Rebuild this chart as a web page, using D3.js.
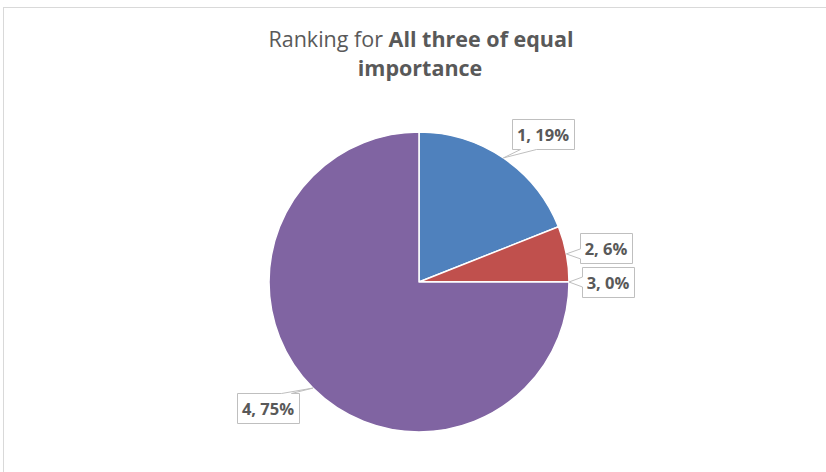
<!DOCTYPE html>
<html>
<head>
<meta charset="utf-8">
<script src="https://cdn.jsdelivr.net/npm/d3@7"></script>
<style>
  html, body { margin: 0; padding: 0; background: #fff; }
  svg { display: block; }
</style>
</head>
<body>
<svg id="chart" width="826" height="472"></svg>
<script>
// Ranking categories and their shares (percent)
const categories = ["1", "2", "3", "4"];
const shares = [19, 6, 0, 75];
const sliceColors = ["#4F81BD", "#C0504D", "#9BBB59", "#8064A2"];

// Title pieces: regular prefix, bold subject
const titlePrefix = "Ranking for ";
const titleBoldLine1 = "All three of equal";
const titleLine2 = "importance";

// Callout box centres for each label
const labelCenters = [[543, 134], [606, 248], [608, 282], [268, 408]];

const W = 826, H = 472;
const cx = 419, cy = 282, R = 150;
const textColor = "#595959";
const fontFamily = "'Open Sans', Lato, sans-serif";

const svg = d3.select("#chart");

// Chart area frame
svg.append("rect")
  .attr("x", 3.5).attr("y", 7.5)
  .attr("width", W + 10).attr("height", H + 10)
  .attr("fill", "#fff")
  .attr("stroke", "#d9d9d9")
  .attr("stroke-width", 1);

// Title
const title = svg.append("text")
  .attr("text-anchor", "middle")
  .attr("font-family", fontFamily)
  .attr("font-size", 21.5)
  .attr("fill", textColor);
title.append("tspan").attr("x", 421).attr("y", 47).text(titlePrefix);
title.append("tspan").attr("font-weight", "bold").text(titleBoldLine1);
title.append("tspan").attr("x", 420).attr("y", 76).attr("font-weight", "bold").text(titleLine2);

// Pie
const data = categories.map((c, i) => ({ cat: c, value: shares[i], color: sliceColors[i] }));
const pie = d3.pie().value(d => d.value).sort(null);
const arcs = pie(data);
const arc = d3.arc().innerRadius(0).outerRadius(R);

const g = svg.append("g").attr("transform", `translate(${cx},${cy})`);
g.selectAll("path.slice")
  .data(arcs)
  .join("path")
  .attr("class", "slice")
  .attr("d", arc)
  .attr("fill", d => d.data.color)
  .attr("stroke", "#fff")
  .attr("stroke-width", 1.5)
  .attr("stroke-linejoin", "round");

// Callout labels with pointer wedges
const labelG = svg.append("g");
arcs.forEach((a, i) => {
  const mid = (a.startAngle + a.endAngle) / 2;
  const tip = [cx + R * Math.sin(mid), cy - R * Math.cos(mid)];
  const [lx, ly] = labelCenters[i];
  const label = `${a.data.cat}, ${a.data.value}%`;

  const grp = labelG.append("g");
  const t = grp.append("text")
    .attr("x", lx).attr("y", ly)
    .attr("text-anchor", "middle")
    .attr("dominant-baseline", "central")
    .attr("font-family", fontFamily)
    .attr("font-weight", "bold")
    .attr("font-size", 16.5)
    .attr("fill", textColor)
    .text(label);
  const bb = t.node().getBBox();
  const padX = 5, bh = 30;
  const x0 = Math.round(lx - bb.width / 2 - padX) + 0.5;
  const x1 = Math.round(lx + bb.width / 2 + padX) + 0.5;
  const y0 = Math.round(ly - bh / 2) + 0.5;
  const y1 = y0 + bh;

  // Build the outline clockwise, inserting the wedge on the side facing the tip
  let pts;
  const [tx, ty] = tip;
  if (tx < x0 && ty > y0 && ty < y1) {
    // left side
    const yc = Math.min(Math.max(ty, y0 + 8), y1 - 8);
    pts = [[x0, y0], [x1, y0], [x1, y1], [x0, y1], [x0, yc + 5], [tx, ty], [x0, yc - 5]];
  } else if (ty > y1) {
    // bottom side
    const xc = Math.min(Math.max(tx, x0 + 4), x1 - 24);
    pts = [[x0, y0], [x1, y0], [x1, y1], [xc + 20, y1], [tx, ty], [xc + 4, y1], [x0, y1]];
  } else {
    // top side
    const xc = Math.min(Math.max(tx, x0 + 24), x1 - 4);
    pts = [[x0, y0], [xc - 14, y0], [tx, ty], [xc - 4, y0], [x1, y0], [x1, y1], [x0, y1]];
  }
  grp.insert("path", "text")
    .attr("d", d3.line()(pts) + "Z")
    .attr("fill", "#fff")
    .attr("stroke", "#bfbfbf")
    .attr("stroke-width", 1)
    .attr("stroke-linejoin", "miter");
});
</script>
</body>
</html>
